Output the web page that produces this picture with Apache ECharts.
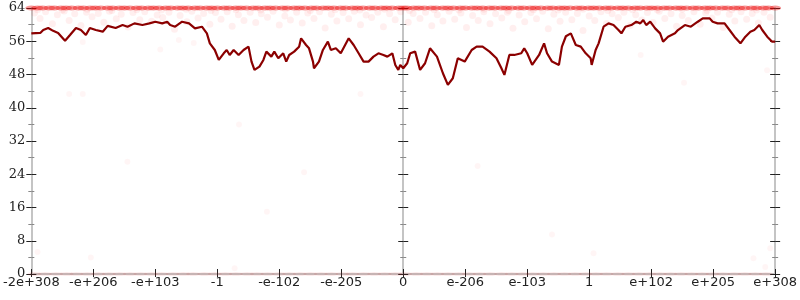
<!DOCTYPE html>
<html>
<head>
<meta charset="utf-8">
<script src="https://cdn.jsdelivr.net/npm/echarts@6/dist/echarts.min.js"></script>
<style>html,body{margin:0;padding:0;background:#fff}#c{width:800px;height:300px}</style>
</head>
<body>
<div id="c"></div>
<script>
var xTickLabels = ['-2e+308','-e+206','-e+103','-1','-e-102','-e-205','0','e-206','e-103','1','e+102','e+205','e+308'];
var yTicks = [0,8,16,24,32,40,48,56,64];

var avgX = [-6.0,-5.856,-5.808,-5.728,-5.648,-5.568,-5.456,-5.376,-5.28,-5.2,-5.12,-5.056,-4.96,-4.848,-4.768,-4.64,-4.528,-4.448,-4.336,-4.208,-4.096,-4.0,-3.888,-3.808,-3.76,-3.68,-3.568,-3.456,-3.36,-3.248,-3.168,-3.12,-3.04,-2.976,-2.896,-2.848,-2.8,-2.736,-2.656,-2.576,-2.496,-2.448,-2.4,-2.32,-2.256,-2.208,-2.128,-2.08,-2.016,-1.936,-1.888,-1.84,-1.76,-1.68,-1.648,-1.568,-1.52,-1.456,-1.44,-1.36,-1.296,-1.216,-1.168,-1.088,-1.008,-0.88,-0.8,-0.72,-0.64,-0.56,-0.48,-0.4,-0.32,-0.256,-0.176,-0.128,-0.08,-0.048,0,0.064,0.112,0.192,0.272,0.352,0.432,0.544,0.64,0.72,0.8,0.88,0.992,1.104,1.184,1.28,1.392,1.504,1.584,1.632,1.712,1.792,1.904,1.952,2.0,2.08,2.192,2.272,2.32,2.4,2.512,2.56,2.624,2.704,2.784,2.864,2.944,3.024,3.04,3.104,3.152,3.232,3.312,3.392,3.472,3.52,3.584,3.68,3.76,3.824,3.872,3.92,3.984,4.064,4.144,4.192,4.272,4.384,4.432,4.544,4.64,4.752,4.832,4.944,4.992,5.072,5.184,5.264,5.344,5.44,5.52,5.6,5.664,5.744,5.792,5.872,5.952,6.0];
var avgY = [57.9,58.0,58.7,59.2,58.5,58.0,56.1,57.5,59.2,58.7,57.5,59.2,58.7,58.3,59.7,59.2,59.9,59.5,60.3,59.9,60.3,60.7,60.3,60.7,59.9,59.5,60.7,60.3,59.1,59.5,57.9,55.5,53.9,51.5,53.1,53.9,52.7,53.9,52.7,53.9,54.7,51.1,49.1,49.9,51.5,53.5,52.3,53.5,51.9,53.1,51.1,52.7,53.5,54.7,56.7,55.1,54.3,51.1,49.5,51.1,53.9,55.9,53.9,54.3,53.1,56.7,55.1,53.1,51.1,51.1,52.3,53.1,52.7,52.3,53.1,50.3,49.1,50.3,49.5,50.7,53.1,53.5,49.1,50.7,54.3,52.3,48.3,45.5,47.1,51.9,51.1,53.9,54.7,54.7,53.5,51.9,49.5,47.9,52.7,52.7,53.1,54.3,53.1,50.3,52.7,55.5,53.1,51.1,50.3,54.7,57.2,57.9,55.1,54.7,53.1,51.9,50.3,53.9,55.5,59.5,60.3,59.9,58.7,57.9,59.5,59.9,60.7,60.3,61.1,59.9,60.7,59.1,57.9,55.9,57.1,57.9,58.7,59.9,59.5,60.7,61.5,61.5,60.7,60.3,60.3,58.7,57.1,55.5,57.1,58.3,58.7,59.9,58.7,57.1,55.9,55.9];

var topRowX = [-6,-5.9,-5.82,-5.71,-5.63,-5.52,-5.44,-5.35,-5.24,-5.16,-5.05,-4.97,-4.88,-4.77,-4.69,-4.58,-4.5,-4.41,-4.3,-4.22,-4.11,-4.03,-3.94,-3.83,-3.75,-3.64,-3.56,-3.47,-3.36,-3.28,-3.17,-3.09,-3.0,-2.89,-2.81,-2.7,-2.62,-2.53,-2.42,-2.34,-2.23,-2.15,-2.06,-1.95,-1.87,-1.76,-1.68,-1.59,-1.48,-1.4,-1.29,-1.21,-1.12,-1.01,-0.93,-0.82,-0.74,-0.65,-0.54,-0.46,-0.35,-0.27,-0.18,-0.07,0,0.06,0.17,0.25,0.34,0.45,0.53,0.64,0.72,0.81,0.92,1.0,1.11,1.19,1.28,1.39,1.47,1.58,1.66,1.75,1.86,1.94,2.05,2.13,2.22,2.33,2.41,2.52,2.6,2.69,2.8,2.88,2.99,3.07,3.16,3.27,3.35,3.46,3.54,3.63,3.74,3.82,3.93,4.01,4.1,4.21,4.29,4.4,4.48,4.57,4.68,4.76,4.87,4.95,5.04,5.15,5.23,5.34,5.42,5.51,5.62,5.7,5.81,5.89,6.0];
var topRowY = 64;

var cloudPts = [[-5.95,62.8],[-5.86,61.5],[-5.77,63.1],[-5.66,60.2],[-5.58,62.4],[-5.47,63.3],[-5.39,61.0],[-5.3,62.6],[-5.2,59.8],[-5.11,63.0],[-5.02,61.9],[-4.92,62.7],[-4.83,60.6],[-4.74,63.2],[-4.63,61.4],[-4.55,62.5],[-4.44,59.4],[-4.36,62.9],[-4.25,61.2],[-4.17,63.1],[-4.06,60.8],[-3.97,62.3],[-3.88,61.7],[-3.78,63.0],[-3.69,58.9],[-3.6,62.2],[-3.49,60.7],[-3.41,63.2],[-3.31,61.6],[-3.22,62.7],[-3.12,60.1],[-3.03,62.9],[-2.94,61.3],[-2.84,63.1],[-2.76,59.6],[-2.66,62.4],[-2.57,61.0],[-2.47,63.0],[-2.38,60.5],[-2.29,62.6],[-2.19,61.8],[-2.1,63.2],[-2.0,59.9],[-1.91,62.1],[-1.82,61.1],[-1.72,63.0],[-1.63,60.4],[-1.54,62.8],[-1.44,61.5],[-1.35,63.1],[-1.26,59.2],[-1.16,62.5],[-1.07,60.9],[-0.97,62.9],[-0.88,61.4],[-0.79,63.2],[-0.69,60.0],[-0.6,62.3],[-0.51,61.7],[-0.41,63.0],[-0.32,59.5],[-0.22,62.6],[-0.13,61.2],[-0.04,63.1],[0.08,60.6],[0.16,62.7],[0.27,61.5],[0.36,63.0],[0.46,59.7],[0.55,62.4],[0.64,60.9],[0.74,63.2],[0.83,61.3],[0.93,62.8],[1.02,59.3],[1.12,62.2],[1.21,61.0],[1.3,63.1],[1.4,60.2],[1.49,62.6],[1.59,61.6],[1.68,63.0],[1.77,59.1],[1.87,62.3],[1.96,60.7],[2.06,62.9],[2.15,61.4],[2.25,63.2],[2.34,59.0],[2.43,62.5],[2.53,60.8],[2.62,63.0],[2.72,61.2],[2.81,62.7],[2.9,58.6],[3.0,62.1],[3.09,61.0],[3.19,63.1],[3.28,60.3],[3.37,62.6],[3.47,61.7],[3.56,63.0],[3.66,59.8],[3.75,62.4],[3.85,61.1],[3.94,62.9],[4.03,60.5],[4.13,63.2],[4.22,61.5],[4.32,62.6],[4.41,59.6],[4.5,62.2],[4.6,61.0],[4.69,63.1],[4.79,60.1],[4.88,62.8],[4.98,61.6],[5.07,63.0],[5.16,59.3],[5.26,62.5],[5.35,60.9],[5.45,63.1],[5.54,61.3],[5.63,62.7],[5.73,60.4],[5.82,63.0],[5.92,61.8],
[-5.9,63.6],[-5.5,63.5],[-5.1,63.7],[-4.7,63.4],[-4.3,63.6],[-3.9,63.5],[-3.5,63.7],[-3.1,63.4],[-2.7,63.6],[-2.3,63.5],[-1.9,63.7],[-1.5,63.4],[-1.1,63.6],[-0.7,63.5],[-0.3,63.7],[0.1,63.4],[0.5,63.6],[0.9,63.5],[1.3,63.7],[1.7,63.4],[2.1,63.6],[2.5,63.5],[2.9,63.7],[3.3,63.4],[3.7,63.6],[4.1,63.5],[4.5,63.7],[4.9,63.4],[5.3,63.6],[5.7,63.5]];

var bottomRowX = [-5.95,-5.78,-5.6,-5.43,-5.27,-5.1,-4.92,-4.75,-4.58,-4.41,-4.24,-4.07,-3.9,-3.72,-3.55,-3.39,-3.21,-3.04,-2.87,-2.7,-2.52,-2.36,-2.19,-2.01,-1.84,-1.67,-1.5,-1.33,-1.16,-0.98,-0.82,-0.64,-0.47,-0.3,-0.13,0.03,0.21,0.38,0.55,0.72,0.89,1.06,1.23,1.4,1.58,1.75,1.92,2.09,2.26,2.43,2.6,2.77,2.94,3.11,3.28,3.46,3.63,3.8,3.97,4.14,4.31,4.48,4.65,4.82,4.99,5.16,5.34,5.51,5.68,5.85];
var bottomRowY = 0;

var strayPts = [[-5.39,43.3],[-5.17,43.3],[-5.17,55.8],[-3.92,54.0],[-3.62,56.3],[-3.38,55.6],[-0.69,43.3],[-4.45,27.0],[-5.9,5.3],[-5.04,4.0],[-2.72,1.4],[3.07,5.0],[5.65,3.8],[5.92,6.2],[5.84,1.7],[3.83,52.7],[4.53,46.0],[5.87,49.0],[-2.65,36.0],[-1.6,24.5],[1.2,26.0],[-2.2,15.0],[2.4,9.5]];

var topRow = topRowX.map(function(x){return [x, topRowY];});
var bottomRow = bottomRowX.map(function(x){return [x, bottomRowY];});
var avgLine = avgX.map(function(x,i){return [x, avgY[i]];});

var AXIS = '#c4c4c4', TICK = '#222', MINOR = '#888';
function yAx(pos, inside, labels, line, zeroIdx){
  var o = {
    type:'value', min:0, max:64, interval:8, position:pos,
    axisLine:{show:line, onZero:zeroIdx!=null, lineStyle:{color:AXIS,width:2}},
    axisTick:{show:true, inside:inside, length:5, lineStyle:{color:TICK,width:1}},
    minorTick:{show:true, splitNumber:2, length:3, lineStyle:{color:MINOR,width:1}},
    axisLabel:{show:labels, margin:6, color:'#222', fontFamily:'DejaVu Serif', fontSize:13},
    splitLine:{show:false}
  };
  if (zeroIdx!=null) o.axisLine.onZeroAxisIndex = zeroIdx;
  return o;
}
function xAx(inside, labels, len){
  return {
    type:'value', min:-6, max:6, interval:1, position:'bottom',
    axisLine:{show:true, onZero:false, lineStyle:{color:AXIS,width:2}},
    axisTick:{show:true, inside:inside, length:len, lineStyle:{color:TICK,width:1}},
    axisLabel:{show:labels, margin:2, color:'#222', fontFamily:'DejaVu Sans', fontSize:13,
      formatter:function(v){return xTickLabels[Math.round(v+6)];}},
    splitLine:{show:false}
  };
}

var chart = echarts.init(document.getElementById('c'));
chart.setOption({
  animation:false,
  grid:{left:28,right:22,top:8,bottom:26},
  xAxis:[xAx(false,true,3), xAx(true,false,5)],
  yAxis:[yAx('left',false,true,true,null), yAx('left',true,false,false,null),
         yAx('right',false,false,true,null), yAx('right',true,false,false,null),
         yAx('left',false,false,true,0), yAx('left',true,false,false,0)],
  series:[
    {type:'scatter', data:bottomRow, symbolSize:[14,4], itemStyle:{color:'rgba(220,40,40,0.12)'}, z:1},
    {type:'scatter', data:strayPts, symbolSize:6, itemStyle:{color:'rgba(255,0,0,0.05)'}, z:1},
    {type:'scatter', data:cloudPts, symbolSize:7, itemStyle:{color:'rgba(255,0,0,0.08)'}, z:1},
    {type:'scatter', data:topRow, symbolSize:[12,5], itemStyle:{color:'rgba(235,0,0,0.5)'}, z:1},
    {type:'line', data:avgLine, showSymbol:false, symbol:'none', lineStyle:{color:'#8b0000',width:2.2}, z:5}
  ]
});
</script>
</body>
</html>
